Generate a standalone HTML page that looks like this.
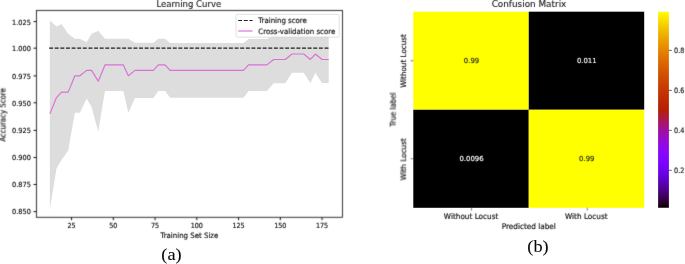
<!DOCTYPE html>
<html><head><meta charset="utf-8"><title>Learning Curve and Confusion Matrix</title>
<style>
html,body{margin:0;padding:0;background:#fff;}
body{width:685px;height:264px;overflow:hidden;}
svg{display:block;}
text{font-family:"DejaVu Sans","Liberation Sans",sans-serif;}
text.cap{font-family:"Liberation Serif","DejaVu Serif",serif;}
</style></head><body>
<svg width="685" height="264" viewBox="0 0 685 264">
<defs><filter id="bl" x="-5%" y="-30%" width="110%" height="160%"><feConvolveMatrix order="3" kernelMatrix="0.01 0.065 0.01 0.065 0.7 0.065 0.01 0.065 0.01" divisor="1" edgeMode="none"/></filter><filter id="bl2" filterUnits="userSpaceOnUse" x="0" y="0" width="685" height="264"><feConvolveMatrix order="3" kernelMatrix="0.02 0.1 0.02 0.1 0.52 0.1 0.02 0.1 0.02" divisor="1" edgeMode="none"/></filter></defs>
<rect width="685" height="264" fill="#fff"/>

<polygon points="49.84,20.38 56.52,26.56 61.53,24.12 68.21,33.82 74.89,38.80 79.90,38.80 86.58,42.16 91.59,33.66 98.27,30.84 104.95,38.72 109.96,38.72 116.64,38.72 123.32,38.72 128.33,38.80 135.01,42.76 141.69,42.76 146.70,42.76 153.38,42.76 158.39,38.72 165.07,38.72 170.08,43.06 176.76,43.06 183.44,43.06 190.12,43.06 195.13,43.06 201.81,43.06 208.49,43.06 213.50,43.06 220.18,43.06 225.19,43.06 231.87,43.06 238.55,43.06 243.56,43.06 248.57,38.92 255.25,38.92 261.93,38.92 266.94,38.92 273.62,35.78 280.30,35.78 285.31,35.78 291.99,35.24 298.67,35.24 303.68,35.24 310.36,36.08 315.37,35.04 322.05,36.08 328.73,36.08 328.73,82.88 322.05,82.88 315.37,73.04 310.36,82.88 303.68,72.84 298.67,72.84 291.99,72.84 285.31,83.18 280.30,83.18 273.62,83.18 266.94,90.92 261.93,90.92 255.25,90.92 248.57,90.92 243.56,97.66 238.55,97.66 231.87,97.66 225.19,97.66 220.18,97.66 213.50,97.66 208.49,97.66 201.81,97.66 195.13,97.66 190.12,97.66 183.44,97.66 176.76,97.66 170.08,97.66 165.07,91.12 158.39,91.12 153.38,97.96 146.70,97.96 141.69,97.96 135.01,97.96 128.33,112.80 123.32,91.12 116.64,91.12 109.96,91.12 104.95,91.12 98.27,131.64 91.59,107.06 86.58,98.56 79.90,112.80 74.89,112.80 68.21,150.42 61.53,160.12 56.52,168.56 49.84,209.50" fill="#dddddd"/>
<line x1="49.14" y1="48.05" x2="328.73" y2="48.05" stroke="#1c1c1c" stroke-width="1.15" stroke-dasharray="3.92 1.7"/>
<polyline points="49.84,113.88 56.52,97.56 61.53,92.12 68.21,92.12 74.89,75.80 79.90,75.80 86.58,70.36 91.59,70.36 98.27,81.24 104.95,64.92 109.96,64.92 116.64,64.92 123.32,64.92 128.33,75.80 135.01,70.36 141.69,70.36 146.70,70.36 153.38,70.36 158.39,64.92 165.07,64.92 170.08,70.36 176.76,70.36 183.44,70.36 190.12,70.36 195.13,70.36 201.81,70.36 208.49,70.36 213.50,70.36 220.18,70.36 225.19,70.36 231.87,70.36 238.55,70.36 243.56,70.36 248.57,64.92 255.25,64.92 261.93,64.92 266.94,64.92 273.62,59.48 280.30,59.48 285.31,59.48 291.99,54.04 298.67,54.04 303.68,54.04 310.36,59.48 315.37,54.04 322.05,59.48 328.73,59.48" fill="none" stroke="#da70d6" stroke-width="1.15" stroke-linejoin="round"/>
<text transform="translate(71.55 228.10) scale(0.92 1.0)" text-anchor="middle" style="font-size:7.0px;fill:#111;stroke:#111;stroke-width:0.16px" filter="url(#bl)">25</text>
<text transform="translate(113.30 228.10) scale(0.92 1.0)" text-anchor="middle" style="font-size:7.0px;fill:#111;stroke:#111;stroke-width:0.16px" filter="url(#bl)">50</text>
<text transform="translate(155.05 228.10) scale(0.92 1.0)" text-anchor="middle" style="font-size:7.0px;fill:#111;stroke:#111;stroke-width:0.16px" filter="url(#bl)">75</text>
<text transform="translate(196.80 228.10) scale(0.92 1.0)" text-anchor="middle" style="font-size:7.0px;fill:#111;stroke:#111;stroke-width:0.16px" filter="url(#bl)">100</text>
<text transform="translate(238.55 228.10) scale(0.92 1.0)" text-anchor="middle" style="font-size:7.0px;fill:#111;stroke:#111;stroke-width:0.16px" filter="url(#bl)">125</text>
<text transform="translate(280.30 228.10) scale(0.92 1.0)" text-anchor="middle" style="font-size:7.0px;fill:#111;stroke:#111;stroke-width:0.16px" filter="url(#bl)">150</text>
<text transform="translate(322.05 228.10) scale(0.92 1.0)" text-anchor="middle" style="font-size:7.0px;fill:#111;stroke:#111;stroke-width:0.16px" filter="url(#bl)">175</text>
<text transform="translate(30.90 24.60) scale(0.94 1.0)" text-anchor="end" style="font-size:7.0px;fill:#111;stroke:#111;stroke-width:0.16px" filter="url(#bl)">1.025</text>
<text transform="translate(30.90 51.10) scale(0.94 1.0)" text-anchor="end" style="font-size:7.0px;fill:#111;stroke:#111;stroke-width:0.16px" filter="url(#bl)">1.000</text>
<text transform="translate(30.90 78.60) scale(0.94 1.0)" text-anchor="end" style="font-size:7.0px;fill:#111;stroke:#111;stroke-width:0.16px" filter="url(#bl)">0.975</text>
<text transform="translate(30.90 105.60) scale(0.94 1.0)" text-anchor="end" style="font-size:7.0px;fill:#111;stroke:#111;stroke-width:0.16px" filter="url(#bl)">0.950</text>
<text transform="translate(30.90 133.20) scale(0.94 1.0)" text-anchor="end" style="font-size:7.0px;fill:#111;stroke:#111;stroke-width:0.16px" filter="url(#bl)">0.925</text>
<text transform="translate(30.90 160.30) scale(0.94 1.0)" text-anchor="end" style="font-size:7.0px;fill:#111;stroke:#111;stroke-width:0.16px" filter="url(#bl)">0.900</text>
<text transform="translate(30.90 187.40) scale(0.94 1.0)" text-anchor="end" style="font-size:7.0px;fill:#111;stroke:#111;stroke-width:0.16px" filter="url(#bl)">0.875</text>
<text transform="translate(30.90 214.40) scale(0.94 1.0)" text-anchor="end" style="font-size:7.0px;fill:#111;stroke:#111;stroke-width:0.16px" filter="url(#bl)">0.850</text>
<text transform="translate(188.80 6.90) scale(1.0 1.0)" text-anchor="middle" style="font-size:8.5px;fill:#111;stroke:#111;stroke-width:0.1px" filter="url(#bl)">Learning Curve</text>
<text transform="translate(189.40 238.10) scale(1.0 1.06)" text-anchor="middle" style="font-size:7.0px;fill:#111;stroke:#111;stroke-width:0.16px" filter="url(#bl)">Training Set Size</text>
<text transform="translate(5.50 114.85) rotate(-90) scale(1.0 1.17)" text-anchor="middle" style="font-size:7.0px;fill:#111;stroke:#111;stroke-width:0.16px" filter="url(#bl)">Accuracy Score</text>
<rect x="236" y="14.4" width="103.2" height="22.8" rx="1.4" fill="#fff" fill-opacity="0.8" stroke="#cccccc" stroke-width="0.6"/>
<line x1="238.2" y1="20.5" x2="252.6" y2="20.5" stroke="#1c1c1c" stroke-width="1.15" stroke-dasharray="3.92 1.7"/>
<line x1="238.2" y1="31" x2="252.6" y2="31" stroke="#da70d6" stroke-width="1.15"/>
<text transform="translate(258.30 23.20) scale(1.0 1.06)" text-anchor="start" style="font-size:7.0px;fill:#111;stroke:#111;stroke-width:0.16px" filter="url(#bl)">Training score</text>
<text transform="translate(258.30 33.70) scale(1.0 1.06)" text-anchor="start" style="font-size:7.0px;fill:#111;stroke:#111;stroke-width:0.16px" filter="url(#bl)">Cross-validation score</text>
<text class="cap" transform="translate(171.50 260.40) scale(1.0 0.96)" text-anchor="middle" style="font-size:18.3px;fill:#0a0a0a;stroke:#0a0a0a;stroke-width:0.1px">(a)</text>
<rect x="413.3" y="11.7" width="115.45" height="98.05" fill="#ffff00"/>
<rect x="528.75" y="11.7" width="115.45" height="98.05" fill="#000"/>
<rect x="413.3" y="109.75" width="115.45" height="98.05" fill="#000"/>
<rect x="528.75" y="109.75" width="115.45" height="98.05" fill="#ffff00"/>
<text transform="translate(471.52 62.73) scale(1.0 1.0)" text-anchor="middle" style="font-size:6.9px;fill:#262626;stroke:#262626;stroke-width:0.16px" filter="url(#bl)">0.99</text>
<text transform="translate(586.77 62.73) scale(1.0 1.0)" text-anchor="middle" style="font-size:6.9px;fill:#ffffff;stroke:#ffffff;stroke-width:0.16px" filter="url(#bl)">0.011</text>
<text transform="translate(471.52 160.78) scale(1.0 1.0)" text-anchor="middle" style="font-size:6.9px;fill:#ffffff;stroke:#ffffff;stroke-width:0.16px" filter="url(#bl)">0.0096</text>
<text transform="translate(586.77 160.78) scale(1.0 1.0)" text-anchor="middle" style="font-size:6.9px;fill:#262626;stroke:#262626;stroke-width:0.16px" filter="url(#bl)">0.99</text>
<text transform="translate(471.10 219.20) scale(1.0 1.06)" text-anchor="middle" style="font-size:7.3px;fill:#111;stroke:#111;stroke-width:0.16px" filter="url(#bl)">Without Locust</text>
<text transform="translate(586.30 219.20) scale(1.0 1.06)" text-anchor="middle" style="font-size:7.3px;fill:#111;stroke:#111;stroke-width:0.16px" filter="url(#bl)">With Locust</text>
<text transform="translate(406.10 61.00) rotate(-90) scale(1.0 1.06)" text-anchor="middle" style="font-size:7.2px;fill:#111;stroke:#111;stroke-width:0.16px" filter="url(#bl)">Without Locust</text>
<text transform="translate(406.10 159.40) rotate(-90) scale(1.0 1.06)" text-anchor="middle" style="font-size:7.2px;fill:#111;stroke:#111;stroke-width:0.16px" filter="url(#bl)">With Locust</text>
<text transform="translate(528.75 228.70) scale(1.0 1.06)" text-anchor="middle" style="font-size:7.3px;fill:#111;stroke:#111;stroke-width:0.16px" filter="url(#bl)">Predicted label</text>
<text transform="translate(395.70 109.60) rotate(-90) scale(1.0 1.13)" text-anchor="middle" style="font-size:7.0px;fill:#111;stroke:#111;stroke-width:0.16px" filter="url(#bl)">True label</text>
<text transform="translate(529.00 7.20) scale(1.0 1.0)" text-anchor="middle" style="font-size:8.85px;fill:#111;stroke:#111;stroke-width:0.1px" filter="url(#bl)">Confusion Matrix</text>
<defs><linearGradient id="cb" x1="0" y1="0" x2="0" y2="1"><stop offset="0.0000" stop-color="rgb(255,255,0)"/><stop offset="0.0208" stop-color="rgb(252,239,0)"/><stop offset="0.0417" stop-color="rgb(250,224,0)"/><stop offset="0.0625" stop-color="rgb(247,210,0)"/><stop offset="0.0833" stop-color="rgb(244,196,0)"/><stop offset="0.1042" stop-color="rgb(241,183,0)"/><stop offset="0.1250" stop-color="rgb(239,171,0)"/><stop offset="0.1458" stop-color="rgb(236,159,0)"/><stop offset="0.1667" stop-color="rgb(233,148,0)"/><stop offset="0.1875" stop-color="rgb(230,137,0)"/><stop offset="0.2083" stop-color="rgb(227,127,0)"/><stop offset="0.2292" stop-color="rgb(224,117,0)"/><stop offset="0.2500" stop-color="rgb(221,108,0)"/><stop offset="0.2708" stop-color="rgb(218,99,0)"/><stop offset="0.2917" stop-color="rgb(215,91,0)"/><stop offset="0.3125" stop-color="rgb(211,83,0)"/><stop offset="0.3333" stop-color="rgb(208,76,0)"/><stop offset="0.3542" stop-color="rgb(205,69,0)"/><stop offset="0.3750" stop-color="rgb(202,62,0)"/><stop offset="0.3958" stop-color="rgb(198,56,0)"/><stop offset="0.4167" stop-color="rgb(195,51,0)"/><stop offset="0.4375" stop-color="rgb(191,45,0)"/><stop offset="0.4583" stop-color="rgb(188,41,0)"/><stop offset="0.4792" stop-color="rgb(184,36,0)"/><stop offset="0.5000" stop-color="rgb(180,32,0)"/><stop offset="0.5208" stop-color="rgb(177,28,33)"/><stop offset="0.5417" stop-color="rgb(173,25,66)"/><stop offset="0.5625" stop-color="rgb(169,21,98)"/><stop offset="0.5833" stop-color="rgb(165,18,128)"/><stop offset="0.6042" stop-color="rgb(160,16,155)"/><stop offset="0.6250" stop-color="rgb(156,13,180)"/><stop offset="0.6458" stop-color="rgb(152,11,202)"/><stop offset="0.6667" stop-color="rgb(147,9,221)"/><stop offset="0.6875" stop-color="rgb(143,8,236)"/><stop offset="0.7083" stop-color="rgb(138,6,246)"/><stop offset="0.7292" stop-color="rgb(133,5,253)"/><stop offset="0.7500" stop-color="rgb(128,4,255)"/><stop offset="0.7708" stop-color="rgb(122,3,253)"/><stop offset="0.7917" stop-color="rgb(116,2,246)"/><stop offset="0.8125" stop-color="rgb(110,2,236)"/><stop offset="0.8333" stop-color="rgb(104,1,221)"/><stop offset="0.8542" stop-color="rgb(97,1,202)"/><stop offset="0.8750" stop-color="rgb(90,0,180)"/><stop offset="0.8958" stop-color="rgb(82,0,155)"/><stop offset="0.9167" stop-color="rgb(74,0,128)"/><stop offset="0.9375" stop-color="rgb(64,0,98)"/><stop offset="0.9583" stop-color="rgb(52,0,66)"/><stop offset="0.9792" stop-color="rgb(37,0,33)"/><stop offset="1.0000" stop-color="rgb(0,0,0)"/></linearGradient></defs>
<rect x="658.1" y="11.7" width="10.80" height="196.05" fill="url(#cb)"/>
<line x1="668.9" y1="50.4" x2="671.8" y2="50.4" stroke="#222" stroke-width="0.7"/>
<text transform="translate(674.10 52.95) scale(0.89 1.0)" text-anchor="start" style="font-size:7.3px;fill:#111;stroke:#111;stroke-width:0.16px" filter="url(#bl)">0.8</text>
<line x1="668.9" y1="90.4" x2="671.8" y2="90.4" stroke="#222" stroke-width="0.7"/>
<text transform="translate(674.10 92.95) scale(0.89 1.0)" text-anchor="start" style="font-size:7.3px;fill:#111;stroke:#111;stroke-width:0.16px" filter="url(#bl)">0.6</text>
<line x1="668.9" y1="130.4" x2="671.8" y2="130.4" stroke="#222" stroke-width="0.7"/>
<text transform="translate(674.10 132.95) scale(0.89 1.0)" text-anchor="start" style="font-size:7.3px;fill:#111;stroke:#111;stroke-width:0.16px" filter="url(#bl)">0.4</text>
<line x1="668.9" y1="170.3" x2="671.8" y2="170.3" stroke="#222" stroke-width="0.7"/>
<text transform="translate(674.10 172.85) scale(0.89 1.0)" text-anchor="start" style="font-size:7.3px;fill:#111;stroke:#111;stroke-width:0.16px" filter="url(#bl)">0.2</text>
<text class="cap" transform="translate(538.00 251.90) scale(1.0 0.96)" text-anchor="middle" style="font-size:18.3px;fill:#0a0a0a;stroke:#0a0a0a;stroke-width:0.1px">(b)</text>
<g filter="url(#bl2)"><rect x="36.4" y="10.4" width="306.10" height="206.90" fill="none" stroke="#111" stroke-width="0.85"/><line x1="71.55" y1="217.3" x2="71.55" y2="220.20000000000002" stroke="#000" stroke-width="0.95"/><line x1="113.30" y1="217.3" x2="113.30" y2="220.20000000000002" stroke="#000" stroke-width="0.95"/><line x1="155.05" y1="217.3" x2="155.05" y2="220.20000000000002" stroke="#000" stroke-width="0.95"/><line x1="196.80" y1="217.3" x2="196.80" y2="220.20000000000002" stroke="#000" stroke-width="0.95"/><line x1="238.55" y1="217.3" x2="238.55" y2="220.20000000000002" stroke="#000" stroke-width="0.95"/><line x1="280.30" y1="217.3" x2="280.30" y2="220.20000000000002" stroke="#000" stroke-width="0.95"/><line x1="322.05" y1="217.3" x2="322.05" y2="220.20000000000002" stroke="#000" stroke-width="0.95"/><line x1="33.5" y1="21.60" x2="36.4" y2="21.60" stroke="#000" stroke-width="0.95"/><line x1="33.5" y1="48.20" x2="36.4" y2="48.20" stroke="#000" stroke-width="0.95"/><line x1="33.5" y1="75.90" x2="36.4" y2="75.90" stroke="#000" stroke-width="0.95"/><line x1="33.5" y1="102.80" x2="36.4" y2="102.80" stroke="#000" stroke-width="0.95"/><line x1="33.5" y1="130.40" x2="36.4" y2="130.40" stroke="#000" stroke-width="0.95"/><line x1="33.5" y1="157.50" x2="36.4" y2="157.50" stroke="#000" stroke-width="0.95"/><line x1="33.5" y1="184.50" x2="36.4" y2="184.50" stroke="#000" stroke-width="0.95"/><line x1="33.5" y1="211.60" x2="36.4" y2="211.60" stroke="#000" stroke-width="0.95"/><line x1="471.50" y1="207.8" x2="471.50" y2="210.5" stroke="#222" stroke-width="0.6"/><line x1="587.30" y1="207.8" x2="587.30" y2="210.5" stroke="#222" stroke-width="0.6"/><line x1="410.60" y1="60.73" x2="413.3" y2="60.73" stroke="#222" stroke-width="0.6"/><line x1="410.60" y1="158.78" x2="413.3" y2="158.78" stroke="#222" stroke-width="0.6"/></g>
</svg></body></html>
